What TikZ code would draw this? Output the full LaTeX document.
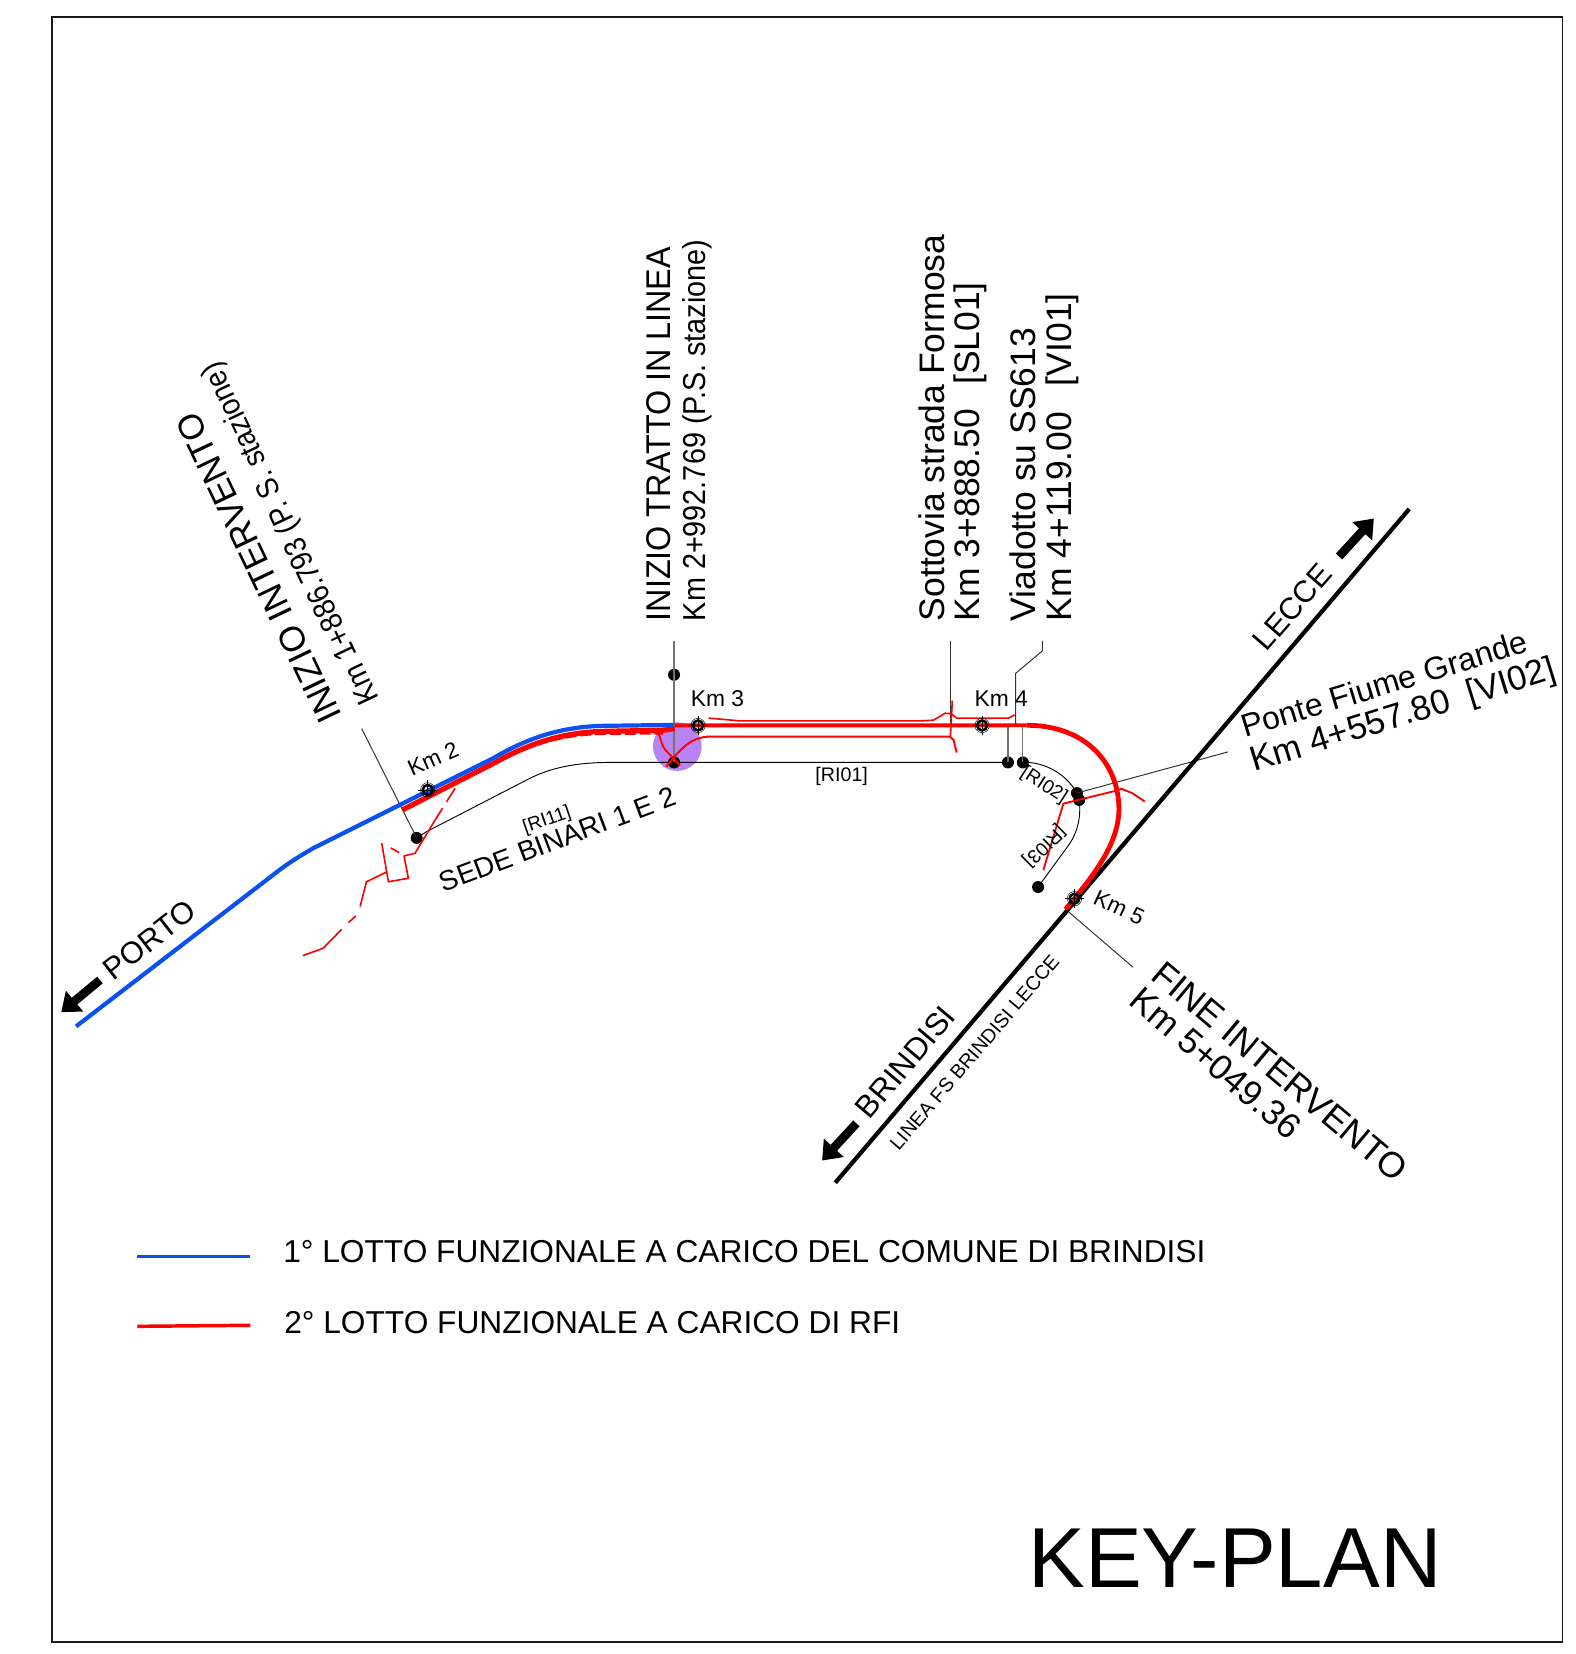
\documentclass[tikz,border=0pt]{standalone}
\usepackage{fontspec}
\setmainfont{Liberation Sans}
\usetikzlibrary{arrows.meta}
\definecolor{rblue}{HTML}{0B50F0}
\definecolor{rred}{HTML}{FF0000}
\definecolor{rpurple}{HTML}{B983F5}
\newcommand{\usz}[1]{\pgfmathsetmacro\tmpsz{#1*0.8536}\fontsize{\tmpsz pt}{\tmpsz pt}\selectfont}
\newcommand{\kmmark}[3]{%
  \node[circle,draw=black,line width=2.1pt,inner sep=0pt,minimum size=8pt] (#1) at (#2,#3) {};
  \draw[line width=0.35pt] (#1.center) circle (6.8);
  \draw[line width=0.35pt] (#2-9,#3) -- (#2+9,#3) (#2,#3-9) -- (#2,#3+9);
}
\tikzset{
  lab/.style={anchor=base west,inner sep=0pt,font=\usz{#1}},
  lab/.default=30,
  cen/.style={anchor=center,inner sep=0pt,font=\usz{#1}},
  leader/.style={line width=0.8pt,draw=black!80},
  gleader/.style={line width=1pt,draw=black!55},
  tline/.style={line width=0.75pt,draw=black},
  dotn/.style={circle,fill=black,inner sep=0pt,minimum size=9.7pt},
  redt/.style={draw=rred,line width=1.05pt,line join=round},
  redb/.style={draw=rred,line width=4.2pt,line join=round},
  bluel/.style={draw=rblue,line width=3.4pt,line join=round},
  bigarrow/.style={line width=7pt,draw=black,-{Triangle[length=14pt,width=21pt]}},
  rail/.style={line width=3.4pt,draw=black}
}
\begin{document}
\begin{tikzpicture}[x=0.03cm,y=-0.03cm]
\useasboundingbox (0,0) rectangle (1492.4,1566.3);
\draw[line width=1.35pt,draw=black!90] (49.5,16.2) rectangle (1479.6,1555);
% purple highlight
\fill[rpurple] (641.4,707) circle (23);
% named dots
\node[dotn] (dA) at (394.6,793.5) {};
\node[dotn] (dB) at (638.3,639) {};
\node[dotn] (dC) at (638.3,722) {};
\node[dotn] (dD) at (954.5,722) {};
\node[dotn] (dE) at (968.6,722) {};
\node[dotn] (dF) at (1019.8,751) {};
\node[dotn] (dG) at (1022,757.5) {};
\node[dotn] (dH) at (983,840) {};
% leaders
\coordinate (lA) at (342.5,690);
\coordinate (lB) at (638.3,607);
\coordinate (lC) at (900.3,607);
\coordinate (lCb) at (900.3,688);
\coordinate (lD1) at (987,607);
\coordinate (lD2) at (987,616.5);
\coordinate (lD3) at (961.8,637.6);
\coordinate (lD4) at (961.8,687);
\coordinate (lE) at (1163,712);
\coordinate (lF) at (1009,861);
\coordinate (lF2) at (1073,916);
\coordinate (tD) at (954.5,687);
\coordinate (tE) at (968.6,687);
\draw[leader] (lA) -- (dA.center);
\draw[gleader] (lB) -- (dC.center);
\draw[leader] (lC) -- (lCb);
\draw[leader] (lD1) -- (lD2) -- (lD3) -- (lD4);
\draw[leader] (lE) -- (dF.center);
\draw[leader] (lF) -- (lF2);
\draw[gleader] (tD) -- (dD.center);
\draw[gleader] (tE) -- (dE.center);
% track centre lines
\draw[tline] (dA.center) -- (404,787.5) -- (498.8,738.6) .. controls (517,729) and (540,722) .. (577.7,722) -- (dC.center) -- (dD.center);
\draw[tline] (dE.center) .. controls (985,721) and (1008,730) .. (dF.center);
\draw[tline] (dG.center) .. controls (1024,775) and (1020,790) .. (1010,803) -- (dH.center);
% railway
\coordinate (rA) at (1334.5,482);
\coordinate (rB) at (791,1120);
\draw[rail] (rA) -- (rB);
% direction arrows
\coordinate (a1s) at (94.7,928); \coordinate (a1e) at (58,958.5);
\coordinate (a2s) at (1268,527); \coordinate (a2e) at (1301,491);
\coordinate (a3s) at (811,1063.8); \coordinate (a3e) at (778.5,1099);
\draw[bigarrow] (a1s) -- (a1e);
\draw[bigarrow] (a2s) -- (a2e);
\draw[bigarrow] (a3s) -- (a3e);
% red works
\draw[draw=rred,line width=1.8pt,dash pattern=on 9pt off 3pt] (432,741) -- (468,723) .. controls (500,706) and (530,696) .. (570,695) -- (628,694.5);
\draw[redb] (381,767) -- (467,723) .. controls (498,706) and (530,693) .. (575,692.5) -- (628,691.5) -- (639,690);
\draw[redb,line width=3.2pt] (639,687) -- (972,686.8);
\draw[redb,line width=3.9pt] (972,686.8) .. controls (1030,686.8) and (1060,725) .. (1059.6,767) .. controls (1059,800) and (1035,830) .. (1009,861);
% branch at left
\draw[redt,line width=1.3pt,dash pattern=on 13pt off 6pt] (431,746.5) -- (412,776.5);
\draw[redt,line width=1.3pt] (412,776.5) -- (393,808) -- (382.6,810.5) -- (386.7,831.7) -- (367.8,835) -- (361.5,798.5);
\draw[redt,line width=1.3pt] (370,803) -- (378,807.4);
\draw[redt,line width=1.3pt] (365.6,826) -- (347,835) -- (341,858.5);
\draw[redt,line width=1.3pt] (337,867.4) -- (330,873.7);
\draw[redt,line width=1.3pt] (323.6,880) -- (306,898) -- (286.7,905);
% red at purple circle
\draw[redt,line width=1.5pt] (620,691) .. controls (626,694) and (625,704) .. (630,710) -- (637.6,718) -- (644,725);
\draw[redt,line width=1.6pt] (631,726) .. controls (645,708) and (655,698) .. (672,697.5) -- (899.6,697.5) -- (903,700.7) -- (906,712.7);
\draw[redt,line width=1.3pt] (671,680) -- (701,682.7) -- (871,682.7) -- (884,682) -- (895,675.4) -- (901,676) -- (906,680) -- (955,680) -- (961,677);
\draw[redt,line width=1.3pt] (901.8,663.5) -- (900,697.5);
% red at the right
\draw[redt,line width=1.5pt] (988,824) -- (1007,761) -- (1056,749) -- (1062,747) -- (1072,751) -- (1084,759);
% blue works
\draw[bluel] (72,972) -- (258,829) .. controls (268,821) and (278,814) .. (297,803) -- (379,762) -- (467,718) .. controls (498,700) and (530,687.5) .. (575,687.3) -- (638,686.5);
% km markers
\kmmark{km2}{405}{748}
\kmmark{km3}{661}{687}
\kmmark{km4}{930}{687}
\kmmark{km5}{1017.5}{851}
% labels
\node[lab=33.3,rotate=115.5] (t1) at (324.5,678) {INIZIO INTERVENTO};
\node[lab=29.5,rotate=115.3,xscale=0.89] (t2) at (359,662) {Km 1+886.793 (P. S. stazione)};
\node[lab=32.5,rotate=90,xscale=0.942] (t3) at (634.5,588.5) {INIZIO TRATTO IN LINEA};
\node[lab=30,rotate=90,xscale=0.91] (t4) at (668,588.5) {Km 2+992.769 (P.S. stazione)};
\node[lab=33.6,rotate=90] (t5) at (894,588.5) {Sottovia strada Formosa};
\node[lab=33.6,rotate=90] (t6) at (928,588.5) {Km 3+888.50~~\kern0.13em[SL01]};
\node[lab=33.6,rotate=90] (t7) at (980.5,588.5) {Viadotto su SS613};
\node[lab=33.6,rotate=90] (t8) at (1014.5,588.5) {Km 4+119.00~~\kern0.17em[VI01]};
\node[lab=30.3,rotate=16.9] (t9) at (1179,698.6) {Ponte Fiume Grande};
\node[lab=32.8,rotate=17.2] (t10) at (1188,731) {Km 4+557.80~~[VI02]};
\node[lab=33.8,rotate=-40] (t11) at (1088.3,926) {FINE INTERVENTO};
\node[lab=33.4,rotate=-40.5] (t12) at (1067.7,950.5) {Km 5+049.36};
\node[lab=29,rotate=38] (t13) at (107.3,929.6) {PORTO};
\node[lab=29,rotate=49] (t14) at (1199.5,618) {LECCE};
\node[lab=29.6,rotate=49.8] (t15) at (823.7,1061.6) {BRINDISI};
\node[lab=18.6,rotate=49.5] (t16) at (851,1090.5) {LINEA FS BRINDISI LECCE};
\node[lab=26.5,rotate=20.5] (t17) at (420,845) {SEDE BINARI 1 E 2};
\node[lab=18,rotate=19] (t18) at (497.2,789) {[RI11]};
\node[lab=18.6] (t19) at (772,740) {[RI01]};
\node[cen=18,rotate=-33] (t20) at (988.5,744) {[RI02]};
\node[cen=18,rotate=224.5] (t21) at (988.6,800.8) {[RI03]};
\node[lab=21.4,rotate=24] (t22) at (390,735.4) {Km 2};
\node[lab=21.6] (t23) at (654,669) {Km 3};
\node[lab=21.6] (t24) at (922.7,669) {Km 4};
\node[lab=21.4,rotate=-25] (t25) at (1033.8,855.4) {Km 5};
% legend
\coordinate (l1a) at (130,1190); \coordinate (l1b) at (237,1190);
\coordinate (l2a) at (130,1256); \coordinate (l2b) at (237,1255);
\draw[draw=rblue,line width=2.8pt] (l1a) -- (l1b);
\draw[draw=rred,line width=2.8pt] (l2a) -- (l2b);
\node[lab=30] (t26) at (268,1195.5) {1° LOTTO FUNZIONALE A CARICO DEL COMUNE DI BRINDISI};
\node[lab=30] (t27) at (269,1262.5) {2° LOTTO FUNZIONALE A CARICO DI RFI};
\node[lab=80.6] (t28) at (973.5,1503.5) {KEY-PLAN};
\end{tikzpicture}
\end{document}
